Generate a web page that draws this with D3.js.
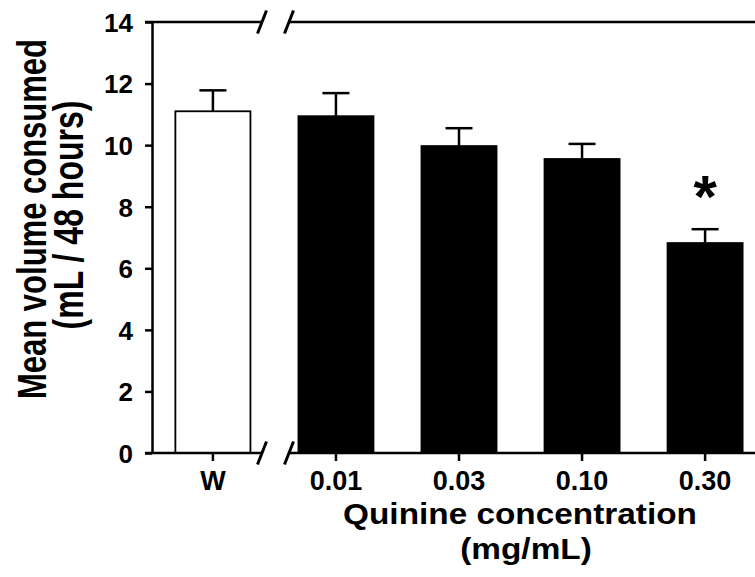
<!DOCTYPE html>
<html>
<head>
<meta charset="utf-8">
<script src="https://cdn.jsdelivr.net/npm/d3@7"></script>
<style>
  html, body { margin: 0; padding: 0; background: #fff; }
  svg { display: block; }
  text { font-family: "Liberation Sans", Arial, Helvetica, sans-serif; font-weight: bold; fill: #000; }
</style>
</head>
<body>
<svg id="chart" width="755" height="577"></svg>
<script>
const categories = ["W", "0.01", "0.03", "0.10", "0.30"];
const means = [11.1, 10.94, 9.97, 9.55, 6.82];
const sems = [0.68, 0.75, 0.58, 0.49, 0.45];
const fills = ["#ffffff", "#000000", "#000000", "#000000", "#000000"];
const significant = [false, false, false, false, true];
const yTicks = [0, 2, 4, 6, 8, 10, 12, 14];
const yLabelLines = ["Mean volume consumed", "(mL / 48 hours)"];
const xLabelLines = ["Quinine concentration", "(mg/mL)"];

const svg = d3.select("#chart");
const W = 755;
const axisX = 152;

const y = d3.scaleLinear().domain([0, 14]).range([453, 22]);
const x = d3.scaleBand().domain(categories).range([152, 766])
  .paddingInner(0.39).paddingOuter(0.19);

// Bars
svg.append("g").selectAll("rect").data(categories).join("rect")
  .attr("x", d => x(d))
  .attr("y", (d, i) => y(means[i]))
  .attr("width", x.bandwidth())
  .attr("height", (d, i) => y(0) - y(means[i]))
  .attr("fill", (d, i) => fills[i])
  .attr("stroke", "#000")
  .attr("stroke-width", 1.8);

// Error bars
const eb = svg.append("g").attr("stroke", "#000").attr("stroke-width", 2.5);
categories.forEach((c, i) => {
  const cx = x(c) + x.bandwidth() / 2;
  eb.append("line").attr("x1", cx).attr("x2", cx)
    .attr("y1", y(means[i])).attr("y2", y(means[i] + sems[i]));
  eb.append("line").attr("x1", cx - 13.5).attr("x2", cx + 13.5)
    .attr("y1", y(means[i] + sems[i])).attr("y2", y(means[i] + sems[i]));
});

// Significance marks
categories.forEach((c, i) => {
  if (!significant[i]) return;
  svg.append("text")
    .attr("x", x(c) + x.bandwidth() / 2)
    .attr("y", y(means[i] + sems[i]) - 12)
    .attr("text-anchor", "middle")
    .style("font-size", "60px")
    .text("*");
});

// Y axis
const yAxis = d3.axisLeft(y).tickValues(yTicks).tickSize(7).tickPadding(12).tickSizeOuter(0);
const gy = svg.append("g").attr("transform", `translate(${axisX},0)`).call(yAxis);
gy.select(".domain").attr("stroke-width", 2.5);
gy.selectAll(".tick line").attr("stroke-width", 2.5);
gy.selectAll(".tick text").style("font-size", "26px").attr("dy", "0.36em");

// X axis ticks & labels (no domain; drawn with break)
const xAxis = d3.axisBottom(x).tickSize(8).tickPadding(5).tickSizeOuter(0);
const gx = svg.append("g").attr("transform", `translate(0,${y(0)})`).call(xAxis);
gx.select(".domain").remove();
gx.selectAll(".tick line").attr("stroke-width", 2.5);
gx.selectAll(".tick text").style("font-size", "27px").attr("dy", "0.88em");

// Frame lines with axis breaks
const br1 = 262, br2 = 289;
const frame = svg.append("g").attr("stroke", "#000").attr("stroke-width", 2.5).attr("fill", "none");
[y(0), y(14)].forEach(yy => {
  frame.append("line").attr("x1", axisX - 7).attr("x2", br1).attr("y1", yy).attr("y2", yy);
  frame.append("line").attr("x1", br2).attr("x2", W).attr("y1", yy).attr("y2", yy);
  [br1, br2].forEach(bx => {
    frame.append("line")
      .attr("x1", bx - 4.5).attr("y1", yy + 11.5)
      .attr("x2", bx + 4.5).attr("y2", yy - 11.5)
      .attr("stroke-width", 3);
  });
});

// Y label (two lines, rotated)
const yPos = [[46, 219, 31], [83, 215, 32]];
yLabelLines.forEach((t, i) => {
  svg.append("text")
    .attr("transform", `translate(${yPos[i][0]},${yPos[i][1]}) rotate(-90) scale(1,1.3)`)
    .attr("text-anchor", "middle")
    .style("font-size", yPos[i][2] + "px")
    .text(t);
});

// X label
const xPos = [[520, 524], [526, 559]];
xLabelLines.forEach((t, i) => {
  svg.append("text")
    .attr("transform", `translate(${xPos[i][0]},${xPos[i][1]}) scale(1.15,1)`)
    .attr("text-anchor", "middle")
    .style("font-size", "29px")
    .text(t);
});
</script>
</body>
</html>
